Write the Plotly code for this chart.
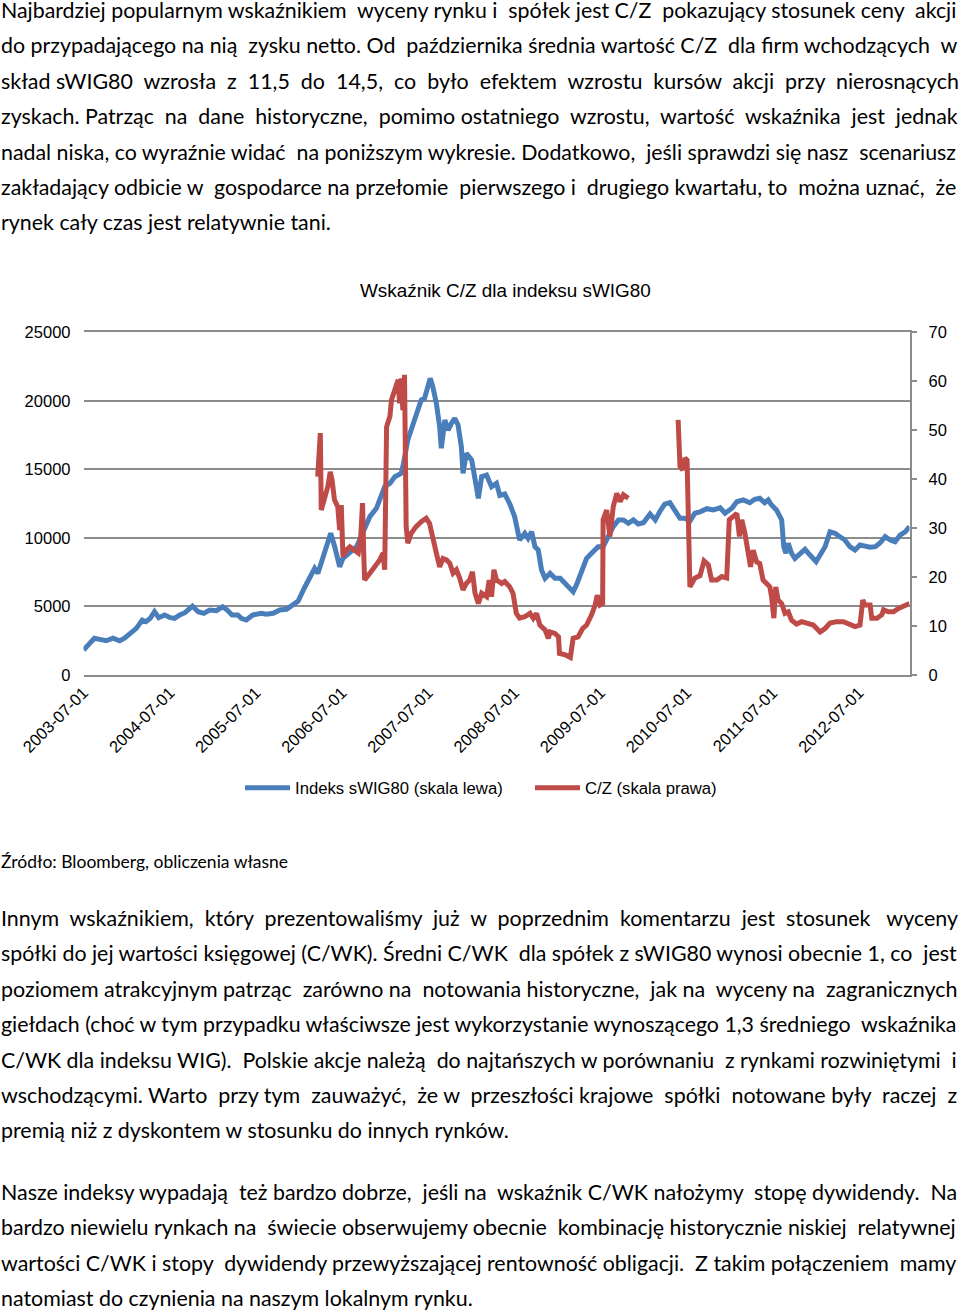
import plotly.graph_objects as go

W, H = 960, 1312

# ---------------- data ----------------
blue_dates = [
    "2003-07-01", "2003-08-16", "2003-09-08", "2003-10-05", "2003-11-03", "2003-12-01", "2003-12-22",
    "2004-01-20", "2004-02-10", "2004-03-06", "2004-03-22", "2004-04-09", "2004-04-27", "2004-05-15",
    "2004-06-09", "2004-07-03", "2004-07-21", "2004-08-12", "2004-09-03", "2004-10-05", "2004-10-29",
    "2004-11-22", "2004-12-17", "2005-01-15", "2005-02-10", "2005-02-26", "2005-03-22", "2005-04-15",
    "2005-04-30", "2005-05-21", "2005-06-18", "2005-07-24", "2005-08-14", "2005-09-12", "2005-10-10",
    "2005-11-08", "2005-12-05", "2005-12-27", "2006-01-25", "2006-02-15", "2006-03-07", "2006-03-21",
    "2006-04-11", "2006-04-28", "2006-05-14", "2006-05-31", "2006-06-21", "2006-07-05", "2006-08-03",
    "2006-09-01", "2006-09-29", "2006-10-27", "2006-11-24", "2006-12-15", "2006-12-29", "2007-01-20",
    "2007-02-10", "2007-02-24", "2007-03-09", "2007-03-16", "2007-04-06", "2007-04-20", "2007-05-04",
    "2007-05-18", "2007-06-02", "2007-06-16", "2007-06-30", "2007-07-10", "2007-07-21", "2007-08-05",
    "2007-08-19", "2007-08-26", "2007-09-10", "2007-09-24", "2007-10-08", "2007-10-22", "2007-11-05",
    "2007-11-19", "2007-11-26", "2007-12-10", "2008-01-02", "2008-01-16", "2008-01-30", "2008-02-13",
    "2008-03-05", "2008-03-26", "2008-04-16", "2008-04-30", "2008-05-21", "2008-06-11", "2008-07-02",
    "2008-07-23", "2008-08-14", "2008-08-28", "2008-09-12", "2008-09-26", "2008-10-10", "2008-10-24",
    "2008-11-08", "2008-11-29", "2008-12-20", "2009-01-11", "2009-02-02", "2009-02-23", "2009-03-07",
    "2009-03-21", "2009-04-12", "2009-05-03", "2009-05-24", "2009-06-21", "2009-07-12", "2009-08-03",
    "2009-08-24", "2009-09-15", "2009-10-06", "2009-10-27", "2009-11-17", "2009-12-08", "2009-12-30",
    "2010-01-27", "2010-02-18", "2010-03-09", "2010-03-30", "2010-04-21", "2010-05-12", "2010-06-03",
    "2010-06-24", "2010-07-15", "2010-08-05", "2010-08-27", "2010-09-25", "2010-10-22", "2010-11-13",
    "2010-11-20", "2010-12-11", "2011-01-09", "2011-01-30", "2011-02-26", "2011-03-26", "2011-04-16",
    "2011-05-07", "2011-05-28", "2011-06-12", "2011-06-26", "2011-07-17", "2011-08-08", "2011-08-17",
    "2011-08-26", "2011-09-05", "2011-09-19", "2011-10-03", "2011-10-24", "2011-11-15", "2011-12-06",
    "2012-01-01", "2012-01-18", "2012-02-08", "2012-02-29", "2012-03-21", "2012-04-11", "2012-05-02",
    "2012-05-23", "2012-06-14", "2012-07-05", "2012-07-26", "2012-08-17", "2012-09-08", "2012-09-29",
    "2012-10-20", "2012-11-10", "2012-12-01", "2012-12-22", "2013-01-13", "2013-01-31",
]
blue_values = [
    1820, 2680, 2600, 2500, 2680, 2500, 2680,
    3160, 3400, 4010, 3890, 4135, 4620, 4180,
    4380, 4180, 4135, 4380, 4545, 5030, 4620,
    4500, 4740, 4690, 4980, 4790, 4380, 4380,
    4135, 4010, 4380, 4500, 4430, 4500, 4740,
    4790, 5100, 5400, 6440, 7170, 7780, 7420,
    8630, 9480, 10340, 9360, 7900, 8510, 8880,
    9360, 10450, 11550, 12160, 13250, 13740, 13980,
    14470, 14590, 14710, 15200, 17140, 17870, 18600,
    19330, 20060, 20190, 21160, 21640, 21030, 19820,
    18110, 16540, 18600, 17870, 18360, 18730, 18240,
    16650, 14710, 16170, 15680, 14470, 12890, 14470,
    14590, 13740, 13980, 13100, 13200, 12500, 11550,
    9850, 10340, 9970, 10450, 9360, 9120, 7660,
    7050, 7420, 7050, 7050, 6690, 6320, 6080,
    6570, 7660, 8510, 8880, 9360, 9360, 10210,
    10820, 11310, 11310, 11070, 11310, 11020, 11110,
    11750, 11310, 11910, 12470, 12570, 12040, 11430,
    11430, 11230, 11800, 11900, 12130, 12040, 12160,
    12200, 11800, 12160, 12640, 12770, 12570, 12820,
    12890, 12570, 12770, 12400, 12040, 11310, 9360,
    8880, 9610, 8880, 8510, 8880, 9170, 8750,
    8270, 8750, 9360, 10450, 10340, 10090, 9850,
    9360, 9120, 9480, 9360, 9320, 9360, 9650,
    10090, 9850, 9720, 10210, 10450, 10820,
]

red_dates = [
    "2006-03-20", "2006-03-31", "2006-04-04", "2006-04-18", "2006-05-02", "2006-05-12", "2006-05-20",
    "2006-05-30", "2006-06-13", "2006-06-21", "2006-06-28", "2006-07-05", "2006-07-19", "2006-08-03",
    "2006-08-24", "2006-09-08", "2006-09-18", "2006-09-26", "2006-10-01", "2006-10-05", "2006-10-27",
    "2006-11-17", "2006-12-08", "2006-12-22", "2006-12-29", "2007-01-06", "2007-01-20", "2007-01-27",
    "2007-02-10", "2007-02-24", "2007-03-02", "2007-03-09", "2007-03-16", "2007-03-23", "2007-03-30",
    "2007-04-06", "2007-04-20", "2007-05-11", "2007-06-02", "2007-06-23", "2007-07-07", "2007-07-21",
    "2007-08-05", "2007-08-19", "2007-09-02", "2007-09-17", "2007-10-01", "2007-10-15", "2007-10-29",
    "2007-11-12", "2007-11-26", "2007-12-10", "2007-12-24", "2008-01-05", "2008-01-16", "2008-01-30",
    "2008-02-13", "2008-03-05", "2008-03-16", "2008-03-26", "2008-04-05", "2008-04-16", "2008-05-08",
    "2008-05-21", "2008-06-11", "2008-06-25", "2008-07-09", "2008-07-23", "2008-08-14", "2008-09-05",
    "2008-09-19", "2008-10-03", "2008-10-17", "2008-11-08", "2008-11-22", "2008-11-29", "2008-12-20",
    "2009-01-04", "2009-01-08", "2009-02-02", "2009-02-23", "2009-03-07", "2009-03-28", "2009-04-16",
    "2009-05-03", "2009-05-24", "2009-06-08", "2009-06-17", "2009-06-29", "2009-07-10", "2009-07-12",
    "2009-07-27", "2009-08-10", "2009-08-24", "2009-09-08", "2009-09-22", "2009-10-06", "2009-10-27",
    "2010-01-15",
    "2010-05-26", "2010-06-03", "2010-06-14", "2010-06-24", "2010-07-03", "2010-07-10", "2010-07-15",
    "2010-08-05", "2010-08-27", "2010-09-13", "2010-10-01", "2010-10-15", "2010-11-06", "2010-11-27",
    "2010-12-18", "2010-12-29", "2011-01-16", "2011-01-30", "2011-02-10", "2011-02-20", "2011-03-05",
    "2011-03-19", "2011-03-29", "2011-04-09", "2011-04-24", "2011-05-07", "2011-05-21", "2011-06-05",
    "2011-06-19", "2011-06-26", "2011-07-06", "2011-07-14", "2011-07-24", "2011-08-08", "2011-08-22",
    "2011-09-05", "2011-09-19", "2011-10-10", "2011-11-01", "2011-11-22", "2011-12-20", "2012-01-18",
    "2012-02-08", "2012-02-29", "2012-03-28", "2012-04-26", "2012-05-23", "2012-06-14", "2012-07-05",
    "2012-07-17", "2012-07-26", "2012-08-17", "2012-08-24", "2012-09-15", "2012-10-06", "2012-10-13",
    "2012-11-03", "2012-11-24", "2012-12-15", "2013-01-06", "2013-01-31",
]
red_values = [
    40.5, 49.4, 33.7, 35.8, 38.5, 41.5, 39.8,
    35.8, 34.4, 29.6, 34.7, 24.2, 25.5, 26.2,
    25.5, 24.9, 27.9, 35.1, 24.9, 19.4, 20.8,
    22.1, 23.5, 24.9, 21.5, 50.7, 52.8, 56.2,
    58.2, 60.3, 55.5, 60.6, 54.1, 61.3, 30.3,
    26.9, 28.9, 30.3, 31.3, 32.0, 31.0, 27.6,
    24.9, 22.1, 23.8, 23.5, 22.8, 20.8, 21.5,
    19.8, 17.4, 18.7, 19.4, 21.1, 16.7, 14.6,
    16.7, 16.0, 19.4, 16.0, 21.5, 19.4, 18.7,
    19.1, 18.0, 16.7, 12.6, 11.6, 11.9, 12.6,
    11.6, 12.6, 10.2, 9.2, 7.5, 8.8, 8.5,
    7.8, 4.4, 4.1, 3.6, 7.5, 7.8, 9.5,
    10.2, 12.3, 14.3, 16.3, 14.3, 14.6, 31.7,
    33.7, 28.3, 34.4, 37.1, 35.4, 36.8, 36.1,
    None,
    52.1, 42.6, 41.9, 44.3, 43.9, 18.7, 18.0,
    19.8, 20.3, 23.3, 22.5, 19.4, 19.4, 20.1,
    19.8, 31.7, 32.3, 33.0, 28.3, 31.7, 29.0,
    25.5, 22.1, 25.5, 23.1, 22.8, 19.4, 18.7,
    18.0, 16.0, 11.6, 18.0, 15.3, 14.6, 12.6,
    12.9, 11.2, 10.4, 10.9, 10.6, 10.2, 8.8,
    9.5, 10.6, 10.9, 10.9, 10.2, 9.9, 10.2,
    15.3, 14.3, 14.3, 11.6, 11.6, 12.3, 13.3,
    12.9, 12.9, 13.6, 14.0, 14.6,
]

x_tick_labels = ["2003-07-01", "2004-07-01", "2005-07-01", "2006-07-01", "2007-07-01",
                 "2008-07-01", "2009-07-01", "2010-07-01", "2011-07-01", "2012-07-01"]
left_ticks = [0, 5000, 10000, 15000, 20000, 25000]
right_ticks = [0, 10, 20, 30, 40, 50, 60, 70]

series_names = ["Indeks sWIG80 (skala lewa)", "C/Z (skala prawa)"]
chart_title = "Wskaźnik C/Z dla indeksu sWIG80"
source_text = "Źródło: Bloomberg, obliczenia własne"

para_top = [
    "Najbardziej popularnym wskaźnikiem wyceny rynku i spółek jest C/Z pokazujący stosunek ceny akcji",
    "do przypadającego na nią zysku netto. Od października średnia wartość C/Z dla firm wchodzących w",
    "skład  sWIG80 wzrosła z 11,5 do 14,5, co było efektem wzrostu kursów akcji przy nierosnących",
    "zyskach. Patrząc na dane historyczne, pomimo ostatniego wzrostu, wartość wskaźnika jest jednak",
    "nadal niska, co wyraźnie widać na poniższym wykresie. Dodatkowo, jeśli sprawdzi się nasz scenariusz",
    "zakładający odbicie w gospodarce na przełomie pierwszego i drugiego kwartału, to można uznać, że",
    "rynek cały czas jest relatywnie tani.",
]
para_mid = [
    "Innym wskaźnikiem, który prezentowaliśmy już w poprzednim komentarzu jest stosunek wyceny",
    "spółki do jej wartości księgowej (C/WK).  Średni C/WK dla spółek z sWIG80 wynosi obecnie 1, co jest",
    "poziomem atrakcyjnym patrząc zarówno na notowania historyczne, jak na wyceny na zagranicznych",
    "giełdach (choć w tym przypadku właściwsze jest wykorzystanie wynoszącego 1,3 średniego wskaźnika",
    "C/WK dla indeksu WIG). Polskie akcje należą do najtańszych w porównaniu z rynkami rozwiniętymi i",
    "wschodzącymi. Warto przy tym zauważyć, że w przeszłości krajowe spółki notowane były raczej z",
    "premią niż z dyskontem w stosunku do innych rynków.",
]
para_bot = [
    "Nasze indeksy wypadają też bardzo dobrze, jeśli na wskaźnik C/WK nałożymy stopę dywidendy. Na",
    "bardzo niewielu rynkach na świecie obserwujemy obecnie kombinację historycznie niskiej relatywnej",
    "wartości C/WK i stopy dywidendy przewyższającej rentowność obligacji.  Z takim połączeniem mamy",
    "natomiast do czynienia na naszym lokalnym rynku.",
]

# ---------------- layout helpers (text justification) ----------------
# natural rendered right edge (px) of each line when set unjustified; None = last line of paragraph
natural_end_top = [937, 936, 885, 908, 941, 930, None]
natural_end_mid = [897, 946, 927, 953, 937, 911, None]
natural_end_bot = [929, 940, 941, None]

BLUE = "#4A7EBB"
RED = "#BE4B48"
GRID = "#8C8C8C"
CHART_FONT = "Liberation Sans, Arial, sans-serif"
BODY_FONT = "Lato, Carlito, sans-serif"
BODY_SIZE = 21.4
NBSP_W = 5.3          # rendered width of one no-break space at BODY_SIZE
TEXT_LEFT = 1
TEXT_RIGHT = 956
NBSP = "\u00a0"


def py(px):
    return 1 - px / H


def justify(line, natural_end):
    """Return (text, font size) that spreads a line between the text margins."""
    words = line.split()
    if natural_end is None or len(words) < 2:
        return " ".join(words), BODY_SIZE
    gaps = len(words) - 1
    extra = max(0, round((TEXT_RIGHT - natural_end) / NBSP_W))
    out = words[0]
    for k in range(gaps):
        n = (k + 1) * extra // gaps - k * extra // gaps
        out += " " + NBSP * n + words[k + 1]
    width_now = natural_end - TEXT_LEFT + extra * NBSP_W
    size = BODY_SIZE * (TEXT_RIGHT - TEXT_LEFT) / width_now
    return out, size


fig = go.Figure()
fig.add_trace(go.Scatter(x=blue_dates, y=blue_values, name=series_names[0], mode="lines",
                         line=dict(color=BLUE, width=5), yaxis="y"))
fig.add_trace(go.Scatter(x=red_dates, y=red_values, name=series_names[1], mode="lines",
                         line=dict(color=RED, width=5), yaxis="y2", connectgaps=False))

annotations = []


def add_text(text, x, y, size, family, xanchor="left", color="#000"):
    annotations.append(dict(text=text, x=x / W, y=py(y), xref="paper", yref="paper",
                            xanchor=xanchor, yanchor="middle", showarrow=False,
                            font=dict(size=size, family=family, color=color), borderpad=0))


def add_paragraph(lines, ends, y0, step):
    for i, line in enumerate(lines):
        text, size = justify(line, ends[i])
        add_text(text, 0, y0 + i * step, size, BODY_FONT)


add_paragraph(para_top, natural_end_top, 10, 35.4)
add_paragraph(para_mid, natural_end_mid, 918, 35.4)
add_paragraph(para_bot, natural_end_bot, 1192, 35.4)
add_text(source_text, 0, 861, 17.5, BODY_FONT)
add_text(chart_title, 505.5, 290, 18.9, CHART_FONT, "center")

fig.update_layout(
    width=W, height=H,
    margin=dict(l=0, r=0, t=0, b=0, autoexpand=False),
    paper_bgcolor="white", plot_bgcolor="white",
    font=dict(family=CHART_FONT, size=16.5, color="#000"),
    showlegend=True,
    legend=dict(orientation="h", x=240 / W, xanchor="left", y=py(788), yanchor="middle",
                font=dict(size=16.7, family=CHART_FONT), entrywidth=230, entrywidthmode="pixels",
                itemwidth=45, bgcolor="rgba(0,0,0,0)"),
    xaxis=dict(domain=[83.5 / W, 909.5 / W], type="date", automargin=False,
               range=["2003-07-01", "2013-01-31"],
               tickvals=x_tick_labels, ticktext=x_tick_labels, tickangle=-45,
               showgrid=False, zeroline=False, showline=True, mirror=True,
               linecolor=GRID, linewidth=1.5,
               ticks="", tickfont=dict(size=16.5), anchor="y"),
    yaxis=dict(domain=[py(675), py(332.3)], range=[0, 25000], tickvals=left_ticks,
               ticktext=[str(v) for v in left_ticks], automargin=False,
               showgrid=True, gridcolor=GRID, gridwidth=1.5, zeroline=False, showline=False,
               ticks="", ticklabelstandoff=12, tickfont=dict(size=16.5)),
    yaxis2=dict(domain=[py(675), py(332.3)], range=[0, 70], tickvals=right_ticks,
                overlaying="y", side="right", anchor="x", automargin=False,
                showgrid=False, zeroline=False, showline=True, linecolor=GRID, linewidth=1.5,
                ticks="outside", ticklen=6, tickcolor=GRID, tickwidth=1.5,
                ticklabelstandoff=8, tickfont=dict(size=16.5)),
    annotations=annotations,
)

fig.write_html("out.html", config={"displayModeBar": False},
               post_script="document.body.style.margin='0px';")
